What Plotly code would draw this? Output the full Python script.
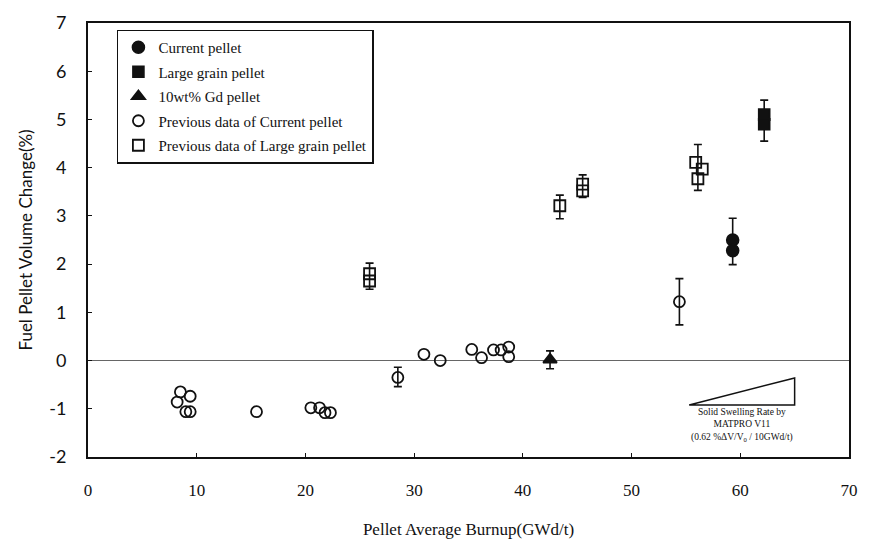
import plotly.graph_objects as go

# ---- data ----
cur_x = [59.3, 59.3]
cur_y = [2.50, 2.28]
large_x = [62.2, 62.2]
large_y = [5.10, 4.90]
gd_x = [42.5]
gd_y = [0.02]
prev_cur_x = [8.5, 9.4, 8.2, 9.0, 9.4, 15.5, 20.5, 21.3, 21.8, 22.3, 28.5,
              30.9, 32.4, 35.3, 36.2, 37.3, 38.0, 38.7, 38.7, 54.4]
prev_cur_y = [-0.65, -0.74, -0.86, -1.06, -1.06, -1.06, -0.98, -0.98, -1.08, -1.08, -0.35,
              0.13, 0.0, 0.23, 0.06, 0.22, 0.22, 0.28, 0.08, 1.22]
prev_large_x = [25.9, 25.9, 43.4, 45.5, 45.5, 55.9, 56.5, 56.1]
prev_large_y = [1.65, 1.80, 3.21, 3.52, 3.66, 4.11, 3.97, 3.77]

# error bars: centre, plus, minus
err_x = [25.9, 28.5, 43.4, 45.5, 56.1, 54.4, 59.3, 62.2, 42.5]
err_c = [1.75, -0.35, 3.19, 3.60, 4.00, 1.22, 2.47, 4.97, 0.02]
err_plus = [0.27, 0.21, 0.24, 0.25, 0.48, 0.48, 0.48, 0.43, 0.18]
err_minus = [0.27, 0.19, 0.25, 0.22, 0.47, 0.48, 0.48, 0.42, 0.19]

# solid swelling rate triangle (data coords)
tri_x = [55.3, 65.0, 65.0]
tri_y = [-0.92, -0.36, -0.92]
tri_text = ["Solid Swelling Rate by", "MATPRO V11", "(0.62 %ΔV/V<sub>0</sub> / 10GWd/t)"]

x_ticks = [0, 10, 20, 30, 40, 50, 60, 70]
y_ticks = [-2, -1, 0, 1, 2, 3, 4, 5, 6, 7]

BLACK = "#111111"
fig = go.Figure()

fig.add_trace(go.Scatter(x=err_x, y=err_c, mode="markers", showlegend=False,
                         marker=dict(size=1, opacity=0),
                         error_y=dict(type="data", symmetric=False, array=err_plus,
                                      arrayminus=err_minus, color=BLACK,
                                      thickness=1.6, width=4),
                         hoverinfo="skip"))

common_line = dict(color=BLACK, width=1.6)
fig.add_trace(go.Scatter(x=cur_x, y=cur_y, mode="markers", name="Current pellet",
                         legendgroup="a",
                         marker=dict(symbol="circle", size=12, color=BLACK, line=common_line)))
fig.add_trace(go.Scatter(x=large_x, y=large_y, mode="markers", name="Large grain pellet",
                         legendgroup="b",
                         marker=dict(symbol="square", size=11, color=BLACK, line=common_line)))
fig.add_trace(go.Scatter(x=gd_x, y=gd_y, mode="markers", name="10wt% Gd pellet",
                         legendgroup="c",
                         marker=dict(symbol="triangle-up", size=12, color=BLACK, line=common_line)))
fig.add_trace(go.Scatter(x=prev_cur_x, y=prev_cur_y, mode="markers",
                         name="Previous data of Current pellet", legendgroup="d",
                         marker=dict(symbol="circle-open", size=11, color=BLACK,
                                     line=dict(color=BLACK, width=1.8))))
fig.add_trace(go.Scatter(x=prev_large_x, y=prev_large_y, mode="markers",
                         name="Previous data of Large grain pellet", legendgroup="e",
                         marker=dict(symbol="square-open", size=11, color=BLACK,
                                     line=dict(color=BLACK, width=1.8))))

# swelling triangle
path = "M {} {} L {} {} L {} {} Z".format(tri_x[0], tri_y[0], tri_x[1], tri_y[1], tri_x[2], tri_y[2])
fig.add_shape(type="path", path=path, xref="x", yref="y",
              line=dict(color=BLACK, width=1.5), fillcolor="rgba(0,0,0,0)")
fig.add_annotation(x=(tri_x[0] + tri_x[1]) / 2, y=tri_y[0], xref="x", yref="y",
                   text="<br>".join(tri_text), showarrow=False, yanchor="top",
                   yshift=0, font=dict(family="Liberation Serif", size=9.5, color=BLACK),
                   align="center")

fig.update_layout(
    width=869, height=547,
    margin=dict(l=88, r=11, t=15, b=89),
    paper_bgcolor="white", plot_bgcolor="white",
    showlegend=True,
    legend=dict(x=0.038, y=0.985, xanchor="left", yanchor="top",
                bgcolor="white", bordercolor=BLACK, borderwidth=1.5,
                font=dict(family="Liberation Serif", size=15, color=BLACK),
                tracegroupgap=2, itemwidth=30),
    xaxis=dict(range=[0, 70], tickvals=x_ticks, ticktext=[str(v) for v in x_ticks],
               showgrid=False, zeroline=False, showline=True, linecolor=BLACK,
               linewidth=2, mirror=True, ticks="inside", ticklen=4, tickcolor=BLACK,
               ticklabelstandoff=17,
               tickfont=dict(family="Liberation Serif", size=17, color=BLACK),
               title=dict(text="Pellet Average Burnup(GWd/t)", standoff=24,
                          font=dict(family="Liberation Serif", size=17, color=BLACK))),
    yaxis=dict(range=[-2, 7], tickvals=y_ticks, ticktext=[str(v) for v in y_ticks],
               showgrid=False, zeroline=True, zerolinecolor="#666666", zerolinewidth=1.3,
               showline=True, linecolor=BLACK, linewidth=2, mirror=True,
               ticks="inside", ticklen=4, tickcolor=BLACK,
               ticklabelstandoff=16,
               tickfont=dict(family="Lato", size=18, color=BLACK),
               title=dict(text="Fuel Pellet Volume Change(%)", standoff=12,
                          font=dict(family="Lato", size=17, color=BLACK))),
)

fig.write_html("out.html")
